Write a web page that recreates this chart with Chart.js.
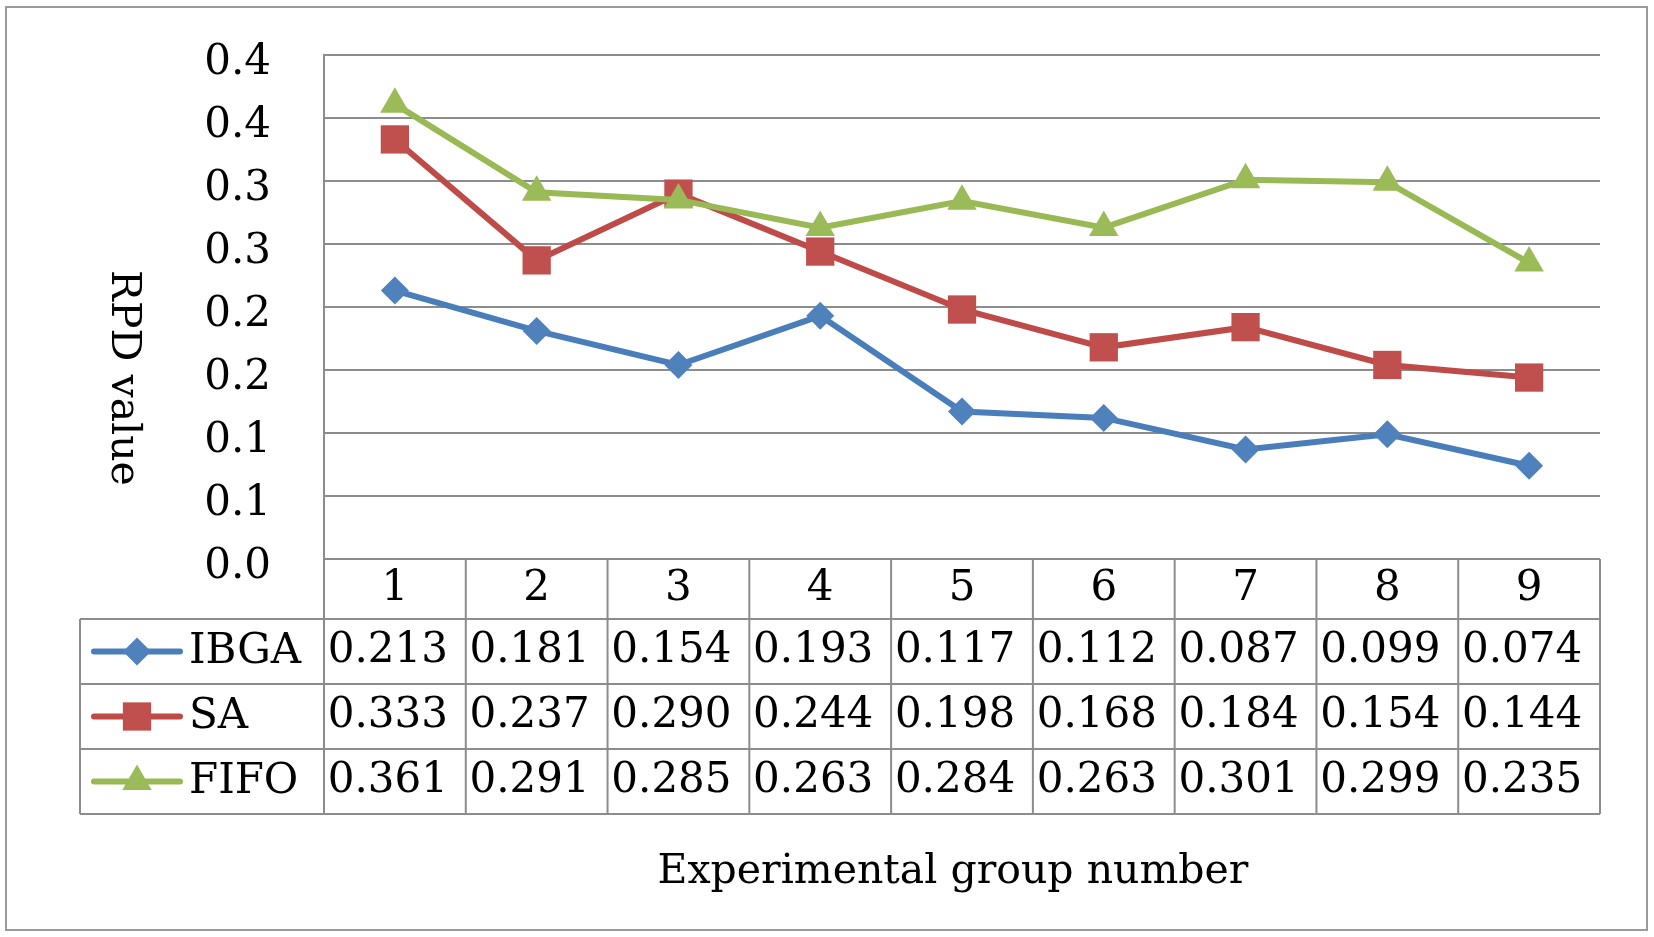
<!DOCTYPE html>
<html>
<head>
<meta charset="utf-8">
<title>RPD value chart</title>
<script src="https://cdn.jsdelivr.net/npm/chart.js@4.4.1/dist/chart.umd.min.js"></script>
<style>
    body { margin: 0; background: #ffffff; }
    canvas { display: block; }
</style>
</head>
<body>
<canvas id="myChart" width="1654" height="937"></canvas>
<script>
// chart data
const groupLabels = ['1', '2', '3', '4', '5', '6', '7', '8', '9'];
const ibgaValues = [0.213, 0.181, 0.154, 0.193, 0.117, 0.112, 0.087, 0.099, 0.074];
const saValues = [0.333, 0.237, 0.290, 0.244, 0.198, 0.168, 0.184, 0.154, 0.144];
const fifoValues = [0.361, 0.291, 0.285, 0.263, 0.284, 0.263, 0.301, 0.299, 0.235];
const seriesNames = ['IBGA', 'SA', 'FIFO'];
const yTickLabels = ['0.0', '0.1', '0.1', '0.2', '0.2', '0.3', '0.3', '0.4', '0.4'];

const fontName = '"DejaVu Serif", "Liberation Serif", serif';
const fontSize = 42;
const gridColor = '#8c8c8c';

const lineColors = ['#4A7EBB', '#BE4B48', '#98B954'];
const markerColors = ['#4F81BD', '#C0504D', '#9BBB59'];
const markerStyles = ['rectRot', 'rect', 'triangle'];
const markerSizes = [14, 20, 17];

// table rows under the plot area
const headerRowHeight = 60;
const dataRowHeight = 65;
const tableLeft = 80;

//plugin for the outer frame, axis titles and the data table
const dataTablePlugin = {
    id: 'dataTable',
    beforeDraw: (chart) => {
        const ctx = chart.ctx;
        ctx.save();
        ctx.fillStyle = '#ffffff';
        ctx.fillRect(0, 0, chart.width, chart.height);
        ctx.strokeStyle = '#9a9a9a';
        ctx.lineWidth = 2;
        ctx.strokeRect(6, 7, 1641, 923);
        ctx.restore();
    },
    afterDraw: (chart) => {
        const ctx = chart.ctx;
        const area = chart.chartArea;
        const xScale = chart.scales.x;
        const step = xScale.getPixelForValue(1) - xScale.getPixelForValue(0);
        const headerBottom = area.bottom + headerRowHeight;
        const tableBottom = headerBottom + dataRowHeight * 3;
        const valueLists = [ibgaValues, saValues, fifoValues];

        ctx.save();
        ctx.strokeStyle = gridColor;
        ctx.lineWidth = 2;

        // horizontal lines
        ctx.beginPath();
        ctx.moveTo(area.left, area.bottom);
        ctx.lineTo(area.right, area.bottom);
        for (let r = 0; r <= 3; r++) {
            const y = headerBottom + r * dataRowHeight;
            ctx.moveTo(tableLeft, y);
            ctx.lineTo(area.right, y);
        }
        // vertical lines
        for (let i = 0; i <= groupLabels.length; i++) {
            const x = xScale.getPixelForValue(0) - step / 2 + i * step;
            ctx.moveTo(x, area.bottom);
            ctx.lineTo(x, tableBottom);
        }
        ctx.moveTo(tableLeft, headerBottom);
        ctx.lineTo(tableLeft, tableBottom);
        ctx.stroke();

        ctx.fillStyle = '#000000';
        ctx.font = fontSize + 'px ' + fontName;
        ctx.textAlign = 'center';
        ctx.textBaseline = 'middle';

        // category labels
        for (let i = 0; i < groupLabels.length; i++) {
            ctx.fillText(groupLabels[i], xScale.getPixelForValue(i), area.bottom + headerRowHeight / 2);
        }

        // values
        for (let r = 0; r < valueLists.length; r++) {
            const y = headerBottom + r * dataRowHeight + dataRowHeight / 2;
            for (let i = 0; i < groupLabels.length; i++) {
                ctx.fillText(valueLists[r][i].toFixed(3), xScale.getPixelForValue(i) - 7, y);
            }
        }

        // legend keys
        for (let r = 0; r < seriesNames.length; r++) {
            const y = headerBottom + r * dataRowHeight + dataRowHeight / 2;
            ctx.strokeStyle = lineColors[r];
            ctx.lineWidth = 6;
            ctx.lineCap = 'round';
            ctx.beginPath();
            ctx.moveTo(94, y);
            ctx.lineTo(180, y);
            ctx.stroke();
            ctx.fillStyle = markerColors[r];
            Chart.helpers.drawPoint(ctx, { pointStyle: markerStyles[r], radius: markerSizes[r], borderWidth: 0 }, 137, y);
            ctx.fillStyle = '#000000';
            ctx.textAlign = 'left';
            ctx.fillText(seriesNames[r], 189, y + 1);
        }

        // axis titles
        ctx.textAlign = 'center';
        ctx.font = (fontSize - 1) + 'px ' + fontName;
        ctx.fillText('Experimental group number', 953, 872);

        ctx.translate(123, 378);
        ctx.rotate(Math.PI / 2);
        ctx.fillText('RPD value', 0, 0);
        ctx.restore();
    }
};

const makeDataset = (index, values) => {
    return {
        label: seriesNames[index],
        data: values,
        borderColor: lineColors[index],
        backgroundColor: markerColors[index],
        borderWidth: 6,
        pointStyle: markerStyles[index],
        pointRadius: markerSizes[index],
        pointBackgroundColor: markerColors[index],
        pointBorderWidth: 0,
        tension: 0,
        order: 2 - index
    };
};

const ctx = document.getElementById('myChart');

const mychartView = new Chart(ctx, {
    type: 'line',
    data: {
        labels: groupLabels,
        datasets: [
            makeDataset(0, ibgaValues),
            makeDataset(1, saValues),
            makeDataset(2, fifoValues)
        ]
    },
    options: {
        responsive: false,
        animation: false,
        layout: {
            padding: { left: 0, top: 55, right: 54, bottom: 378 }
        },
        plugins: {
            legend: { display: false },
            tooltip: { enabled: false }
        },
        scales: {
            x: {
                display: false,
                offset: true
            },
            y: {
                min: 0,
                max: 0.4,
                afterFit: (scale) => {
                    scale.width = 324;
                    scale.paddingTop = 0;
                    scale.paddingBottom = 0;
                },
                ticks: {
                    stepSize: 0.05,
                    padding: 53,
                    labelOffset: 8,
                    color: '#000000',
                    font: { family: fontName, size: fontSize },
                    callback: (value, index) => yTickLabels[index]
                },
                grid: {
                    color: gridColor,
                    lineWidth: 2,
                    drawTicks: false
                },
                border: { color: gridColor, width: 2 }
            }
        }
    },
    plugins: [dataTablePlugin]
});
</script>
</body>
</html>
